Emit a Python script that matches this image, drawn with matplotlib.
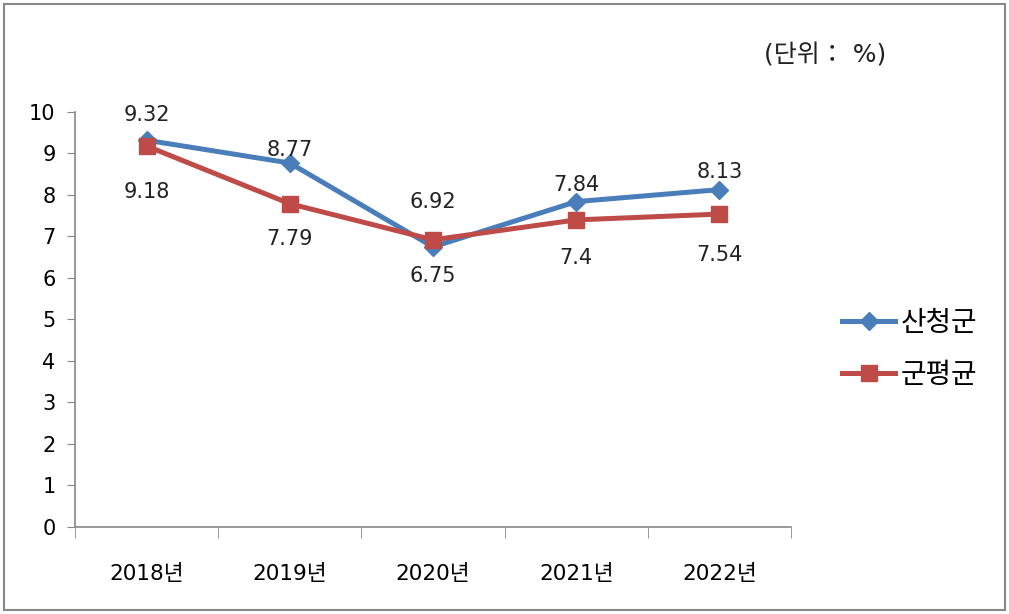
import matplotlib
matplotlib.use("Agg")
import matplotlib.pyplot as plt
from matplotlib.patches import Rectangle

plt.rcParams['font.family'] = ['DejaVu Sans', 'Noto Sans CJK KR']

categories = ["2018년", "2019년", "2020년", "2021년", "2022년"]
sancheong = [9.32, 8.77, 6.75, 7.84, 8.13]
gun_avg = [9.18, 7.79, 6.92, 7.4, 7.54]
series_names = ["산청군", "군평균"]

# label offsets in pixels (layout only)
sancheong_label_dy = [25, 13, -29, 17, 18]
gun_label_dy = [-46, -35, 38, -38, -41]

fig = plt.figure(figsize=(10.09, 6.14), dpi=100)
fig.patches.append(Rectangle((0.004, 0.006), 0.992, 0.988, transform=fig.transFigure,
                             fill=False, edgecolor='#888888', linewidth=1.5))
ax = fig.add_axes([0.0743, 0.1417, 0.7097, 0.6759])

x = list(range(len(categories)))
blue = '#4A7EBB'
red = '#BE4B48'
l1, = ax.plot(x, sancheong, color=blue, lw=3.6, marker='D', markersize=9,
              label=series_names[0], zorder=3)
l2, = ax.plot(x, gun_avg, color=red, lw=3.6, marker='s', markersize=11.5,
              label=series_names[1], zorder=3)

for xi, v, dy in zip(x, sancheong, sancheong_label_dy):
    ax.annotate(f"{v:g}", (xi, v), xytext=(0, dy), textcoords='offset pixels',
                ha='center', va='center', fontsize=15, color='#222222')
for xi, v, dy in zip(x, gun_avg, gun_label_dy):
    ax.annotate(f"{v:g}", (xi, v), xytext=(0, dy), textcoords='offset pixels',
                ha='center', va='center', fontsize=15, color='#222222')

ax.set_xlim(-0.5, len(categories) - 0.5)
ax.set_ylim(0, 10)
ax.set_yticks(range(0, 11))
ax.tick_params(axis='y', labelsize=15, length=6, color='#888888', pad=8)
ax.set_xticks(x)
ax.set_xticklabels(categories, fontsize=15.5)
ax.tick_params(axis='x', length=0, pad=27)
ax.set_xticks([i - 0.5 for i in range(len(categories) + 1)], minor=True)
ax.tick_params(axis='x', which='minor', length=8, color='#888888')
for s in ['top', 'right']:
    ax.spines[s].set_visible(False)
for s in ['left', 'bottom']:
    ax.spines[s].set_color('#888888')
    ax.spines[s].set_linewidth(1.2)

fig.text(0.757, 0.91, "(단위： %)", fontsize=18, ha='left', va='center', color='#222222')

fig.legend(handles=[l1, l2], loc='center left', bbox_to_anchor=(0.81, 0.432),
           frameon=False, fontsize=20, handlelength=1.9, labelspacing=0.85,
           handletextpad=0.2)

fig.savefig("out.png", dpi=100)
